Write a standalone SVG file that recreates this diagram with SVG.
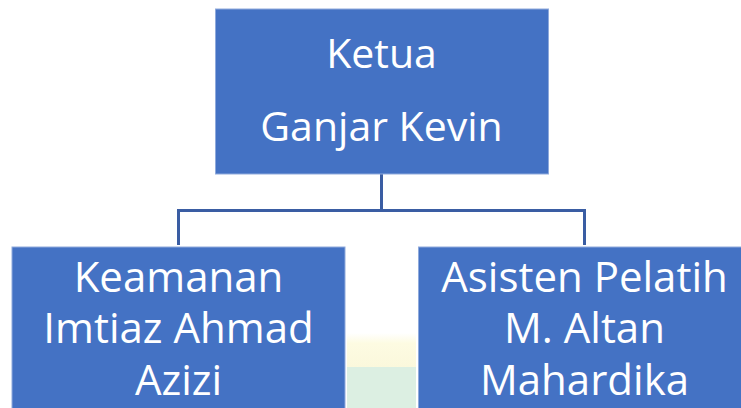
<svg xmlns="http://www.w3.org/2000/svg" width="741" height="408" viewBox="0 0 741 408">
<defs>
<style>
.box{fill:#4472C4;stroke:#8FAADC;stroke-width:1}
.t{font-family:"Open Sans","Liberation Sans",sans-serif;fill:#FFFFFF;text-anchor:middle}
.top{font-size:41px}
.sub{font-size:42px}
.conn{fill:none;stroke:#3A5DA3;stroke-width:3}
</style>
<linearGradient id="wmY" x1="0" y1="0" x2="0" y2="1">
<stop offset="0" stop-color="#FFFFFF"/>
<stop offset="0.3" stop-color="#FDFBE2"/>
<stop offset="1" stop-color="#FBF8DC"/>
</linearGradient>
</defs>
<rect width="741" height="408" fill="#FFFFFF"/>
<g id="watermark">
<rect x="347" y="333" width="69" height="34" fill="url(#wmY)"/>
<rect x="347" y="367" width="69" height="41" fill="#DCEFE2"/>
</g>
<g id="connectors">
<path class="conn" d="M381.5 174 V210.5"/>
<path class="conn" d="M178.5 245 V210.5 H584.5 V245"/>
</g>
<g id="ketua">
<rect class="box" x="215.5" y="9" width="333" height="165"/>
<text class="t top" x="381.5" y="68">Ketua</text>
<text class="t top" x="381.5" y="141">Ganjar Kevin</text>
</g>
<g id="keamanan">
<rect class="box" x="12" y="247" width="333" height="170"/>
<text class="t sub" x="178.5" y="291.5">Keamanan</text>
<text class="t sub" x="178.5" y="343">Imtiaz Ahmad</text>
<text class="t sub" x="178.5" y="395">Azizi</text>
</g>
<g id="asisten">
<rect class="box" x="418.5" y="247" width="330" height="170"/>
<text class="t sub" x="584.5" y="291.5">Asisten Pelatih</text>
<text class="t sub" x="584.5" y="343">M. Altan</text>
<text class="t sub" x="584.5" y="395">Mahardika</text>
</g>
</svg>
